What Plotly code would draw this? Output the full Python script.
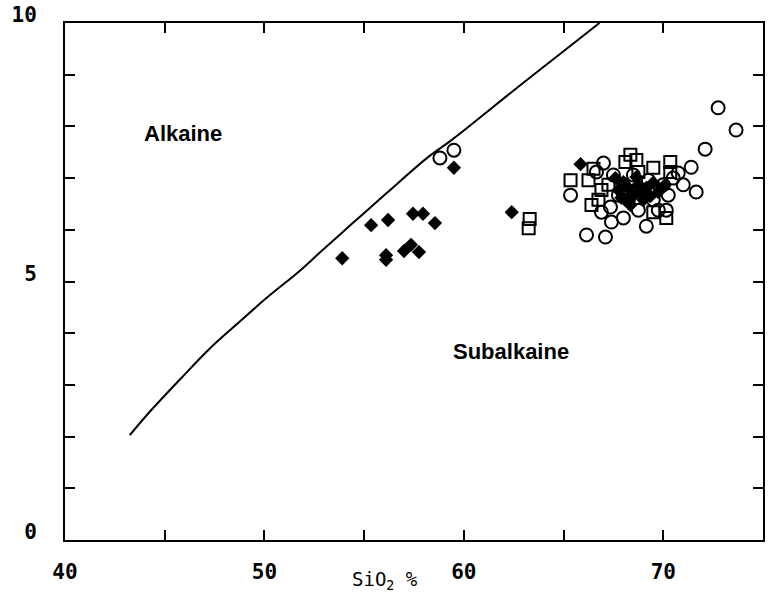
import plotly.graph_objects as go

# Alkaline / subalkaline dividing line
line_x = [43.25, 44.25, 45.75, 47.25, 48.75, 50.1, 51.75, 52.75, 54.4, 56.1, 58.25, 59.4, 63.0, 66.8]
line_y = [2.03, 2.48, 3.10, 3.70, 4.22, 4.68, 5.20, 5.55, 6.12, 6.70, 7.42, 7.74, 8.85, 10.0]

# Open circles
circ_x = [58.8, 59.5, 72.75, 73.65, 72.1, 71.4, 71.65, 69.15, 65.35, 66.15, 67.1, 66.9, 67.4, 68.0,
          67.0, 66.65, 70.75, 70.0, 68.75, 69.75, 69.5, 70.25, 71.0, 68.25, 69.0, 67.75, 67.5, 68.5,
          69.25, 70.15, 70.5, 67.35]
circ_y = [7.39, 7.54, 8.36, 7.93, 7.56, 7.21, 6.73, 6.07, 6.67, 5.90, 5.86, 6.34, 6.15, 6.23,
          7.29, 7.12, 7.10, 6.87, 6.38, 6.38, 6.58, 6.67, 6.87, 6.58, 6.67, 6.67, 7.06, 7.06,
          6.96, 6.38, 7.0, 6.44]

# Open squares
sq_x = [63.3, 63.25, 65.35, 66.25, 66.5, 66.4, 66.9, 68.1, 68.35, 68.65, 70.35, 70.35, 67.25,
        68.75, 69.5, 68.0, 66.75, 69.5, 70.15]
sq_y = [6.21, 6.03, 6.96, 6.96, 7.18, 6.48, 6.77, 7.31, 7.45, 7.35, 7.31, 7.12, 6.87,
        7.12, 7.2, 6.77, 6.58, 6.34, 6.23]

# Filled diamonds
dia_x = [53.9, 55.35, 56.2, 57.45, 57.95, 58.55, 56.1, 56.1, 57.0, 57.35, 57.75, 59.5, 62.4,
         65.85, 67.6, 68.0, 68.25, 68.75, 69.15, 69.5, 68.5, 69.0, 67.75, 68.15, 69.75, 69.35,
         68.65, 68.85, 68.35, 70.05, 67.9]
dia_y = [5.45, 6.09, 6.19, 6.31, 6.31, 6.13, 5.51, 5.42, 5.59, 5.71, 5.57, 7.20, 6.34,
         7.27, 7.0, 6.92, 6.81, 6.87, 6.81, 6.91, 6.67, 6.58, 6.77, 6.58, 6.73, 6.65,
         7.02, 6.75, 6.48, 6.85, 6.62]

x_ticks = [40, 45, 50, 55, 60, 65, 70, 75]
x_labels = ["40", "", "50", "", "60", "", "70", ""]
y_ticks = [0, 1, 2, 3, 4, 5, 6, 7, 8, 9, 10]
y_labels = ["0", "", "", "", "", "5", "", "", "", "", "10"]

fig = go.Figure()
fig.add_trace(go.Scatter(x=line_x, y=line_y, mode="lines",
                         line=dict(color="black", width=2, shape="spline", smoothing=1.0),
                         hoverinfo="skip"))
fig.add_trace(go.Scatter(x=circ_x, y=circ_y, mode="markers",
                         marker=dict(symbol="circle-open", size=13, color="black",
                                     line=dict(width=2, color="black"))))
fig.add_trace(go.Scatter(x=sq_x, y=sq_y, mode="markers",
                         marker=dict(symbol="square-open", size=12, color="black",
                                     line=dict(width=2, color="black"))))
fig.add_trace(go.Scatter(x=dia_x, y=dia_y, mode="markers",
                         marker=dict(symbol="diamond", size=11, color="black")))

tickfont = dict(family="DejaVu Sans Mono", size=21, color="black", weight="bold")

fig.update_layout(
    width=768, height=595,
    margin=dict(l=65, r=3, t=22, b=55),
    paper_bgcolor="white", plot_bgcolor="white",
    showlegend=False,
    xaxis=dict(range=[40, 75], tickvals=x_ticks, ticktext=x_labels,
               ticks="inside", ticklen=10, tickwidth=2, tickcolor="black",
               showline=True, linecolor="black", linewidth=2, mirror="ticks",
               showgrid=False, zeroline=False, tickfont=tickfont,
               ticklabelstandoff=12),
    yaxis=dict(range=[0, 10], tickvals=y_ticks, ticktext=y_labels,
               ticks="inside", ticklen=10, tickwidth=2, tickcolor="black",
               showline=True, linecolor="black", linewidth=2, mirror="ticks",
               showgrid=False, zeroline=False, tickfont=tickfont,
               ticklabelstandoff=22, ticklabelshift=-8),
    annotations=[
        dict(x=45.9, y=7.87, xref="x", yref="y", text="Alkaine", showarrow=False,
             font=dict(family="Liberation Sans", size=22, color="black", weight="bold")),
        dict(x=62.35, y=3.64, xref="x", yref="y", text="Subalkaine", showarrow=False,
             font=dict(family="Liberation Sans", size=22, color="black", weight="bold")),
        dict(x=56.05, y=0, xref="x", yref="paper", yshift=-40, yanchor="middle",
             text="SiO<sub>2</sub> %", showarrow=False,
             font=dict(family="DejaVu Sans Mono", size=19, color="black")),
    ],
)

fig.write_html("out.html")
